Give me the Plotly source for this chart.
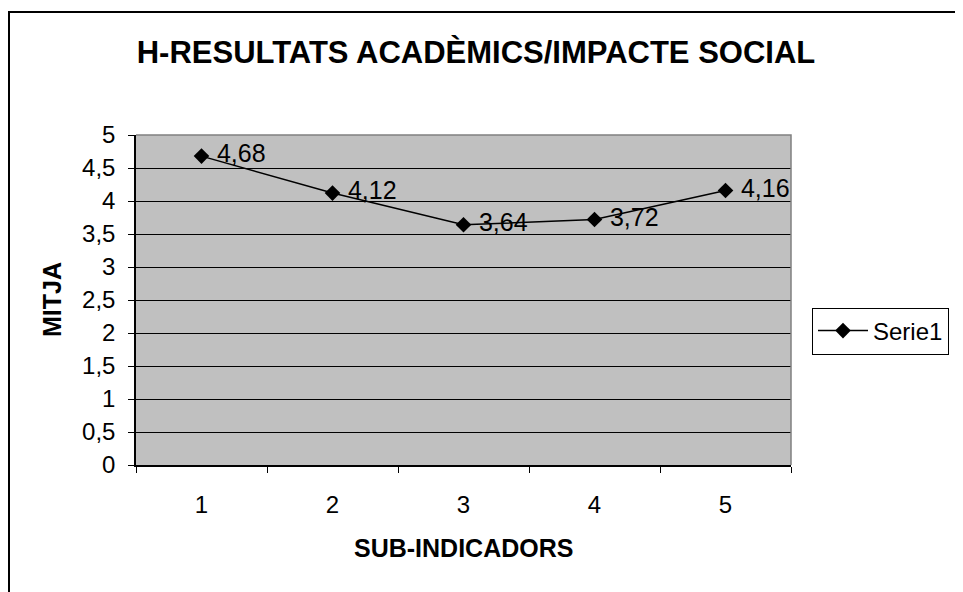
import plotly.graph_objects as go

categories = [1, 2, 3, 4, 5]
values = [4.68, 4.12, 3.64, 3.72, 4.16]
y_ticks = [0, 0.5, 1, 1.5, 2, 2.5, 3, 3.5, 4, 4.5, 5]
series_name = "Serie1"
title_text = "H-RESULTATS ACADÈMICS/IMPACTE SOCIAL"
x_title = "SUB-INDICADORS"
y_title = "MITJA"

FONT = "Arial, Liberation Sans, sans-serif"

# page body has an 8px margin; work in screen pixels and convert
OFF = 8
W, H = 963 - OFF, 592 - OFF
SL, SR, ST, SB = 136, 791, 135, 465          # plot area in screen pixels
L, R, T, B = SL - OFF, SR - OFF, ST - OFF, SB - OFF
pw, ph = R - L, B - T


def px_x(s):
    return (s - SL) / pw


def px_y(s):
    return (SB - s) / ph


fig = go.Figure()
fig.add_trace(go.Scatter(
    x=categories, y=values, name=series_name,
    mode="lines+markers+text",
    line=dict(color="black", width=1.5),
    marker=dict(symbol="diamond", size=12, color="black"),
    texttemplate=" %{y:.2f}", textposition="middle right",
    textfont=dict(family=FONT, size=25, color="black"),
    cliponaxis=False,
))

# outer chart border
fig.add_shape(type="rect", xref="paper", yref="paper",
              x0=px_x(9), x1=px_x(975), y0=px_y(12), y1=px_y(610),
              line=dict(color="black", width=2), fillcolor="rgba(0,0,0,0)", layer="below")
# plot-area top and right border (gray)
fig.add_shape(type="path", xref="paper", yref="paper",
              path="M 0,1 L 1,1 L 1,0",
              line=dict(color="#808080", width=1.5), layer="above")

fig.add_annotation(text="<b>%s</b>" % x_title, xref="paper", yref="paper",
                   x=px_x(463), y=px_y(548), xanchor="center", yanchor="middle",
                   showarrow=False, font=dict(family=FONT, size=25, color="black"))
fig.add_annotation(text="<b>%s</b>" % y_title, xref="paper", yref="paper",
                   x=px_x(52), y=px_y(300), xanchor="center", yanchor="middle",
                   textangle=-90, showarrow=False,
                   font=dict(family=FONT, size=25, color="black"))

fig.update_layout(
    width=W, height=H,
    margin=dict(l=L, r=W - R, t=T, b=H - B, autoexpand=False),
    paper_bgcolor="white", plot_bgcolor="#C0C0C0",
    separators=", ",
    font=dict(family=FONT, size=24, color="black"),
    title=dict(text="<b>%s</b>" % title_text,
               x=px_x(476), xanchor="center", xref="paper",
               y=1 - (52 - OFF) / H, yanchor="middle",
               font=dict(family=FONT, size=31, color="black")),
    showlegend=True,
    legend=dict(x=px_x(812), xanchor="left", y=px_y(331), yanchor="middle",
                bgcolor="white", bordercolor="black", borderwidth=1,
                font=dict(family=FONT, size=24, color="black"),
                itemwidth=50, tracegroupgap=0),
    xaxis=dict(range=[0.5, 5.5], tickvals=categories, ticks="", showgrid=False,
               zeroline=False, showline=True, linecolor="black", linewidth=1.5,
               tickfont=dict(family=FONT, size=24),
               ticklabelstandoff=17,
               minor=dict(tickvals=[0.5, 1.5, 2.5, 3.5, 4.5, 5.5], ticks="outside",
                          ticklen=6, tickcolor="black", showgrid=False)),
    yaxis=dict(range=[0, 5], tickvals=y_ticks, ticks="outside", ticklen=6,
               tickcolor="black", showgrid=True, gridcolor="black", gridwidth=1,
               zeroline=False, showline=True, linecolor="black", linewidth=1.5,
               tickfont=dict(family=FONT, size=24), ticklabelstandoff=8),
)

fig.write_html("out.html")
